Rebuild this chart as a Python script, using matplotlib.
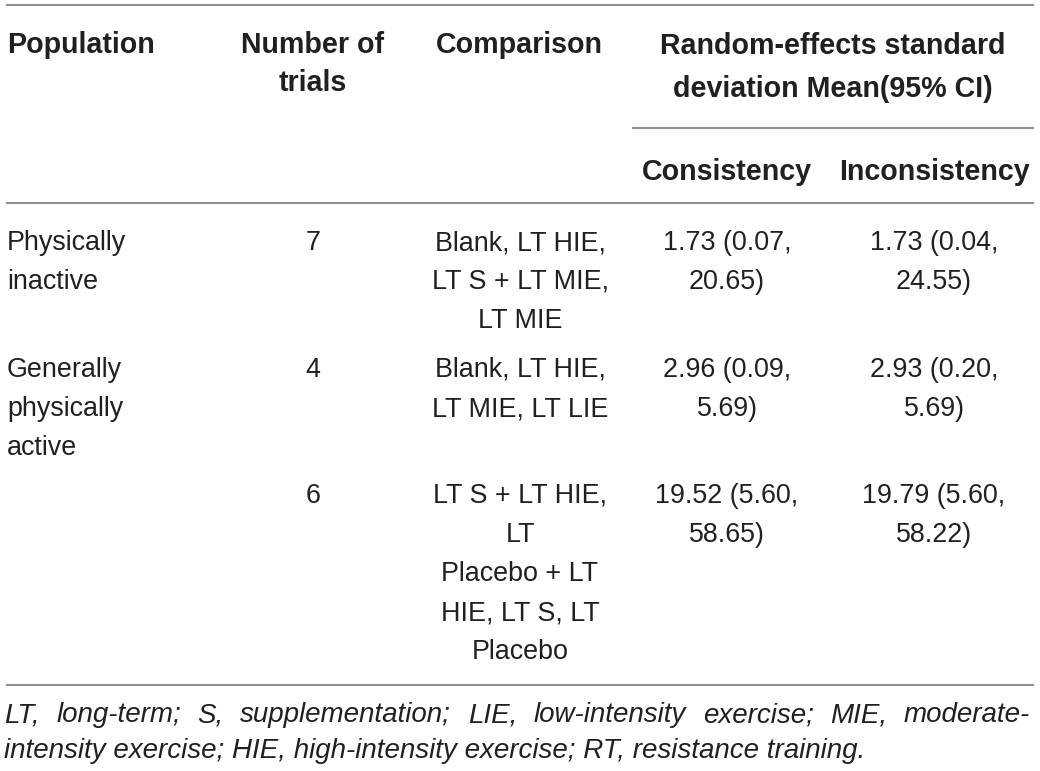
import matplotlib
matplotlib.use("Agg")
import matplotlib.pyplot as plt
from matplotlib import font_manager

# table content
populations = ["Physically\ninactive", "Generally\nphysically\nactive", ""]
n_trials = ["7", "4", "6"]
comparisons = [
    "Blank, LT HIE,\nLT S + LT MIE,\nLT MIE",
    "Blank, LT HIE,\nLT MIE, LT LIE",
    "LT S + LT HIE,\nLT\nPlacebo + LT\nHIE, LT S, LT\nPlacebo",
]
consistency = ["1.73 (0.07,\n20.65)", "2.96 (0.09,\n5.69)", "19.52 (5.60,\n58.65)"]
inconsistency = ["1.73 (0.04,\n24.55)", "2.93 (0.20,\n5.69)", "19.79 (5.60,\n58.22)"]

footnote1 = "LT, long-term; S, supplementation; LIE, low-intensity exercise; MIE, moderate-"
footnote2 = "intensity exercise; HIE, high-intensity exercise; RT, resistance training."

W, H = 1040, 771
fig = plt.figure(figsize=(W / 100, H / 100), dpi=100)
ax = fig.add_axes([0, 0, 1, 1])
ax.set_xlim(0, W)
ax.set_ylim(H, 0)
ax.axis("off")

txt = "#231f20"
rule = "#8f8f8f"
font = "Liberation Sans"
names = {f.name for f in font_manager.fontManager.ttflist}
fn_font = "Liberation Sans Narrow" if "Liberation Sans Narrow" in names else font
fs_body = 19.4
fs_head = 20.6

# rules
for y in [5, 203, 685]:
    ax.plot([6, 1034], [y, y], color=rule, lw=1.5, solid_capstyle="butt")
ax.plot([632, 1034], [128, 128], color=rule, lw=1.5, solid_capstyle="butt")

# header
hd = dict(fontsize=fs_head, fontweight="bold", color=txt, family=font, va="baseline")
ax.text(7, 53, "Population", ha="left", **hd)
ax.text(313, 53, "Number of", ha="center", **hd)
ax.text(313, 91, "trials", ha="center", **hd)
ax.text(519, 53, "Comparison", ha="center", **hd)
ax.text(833, 54, "Random-effects standard", ha="center", **hd)
ax.text(833, 97, "deviation Mean(95% CI)", ha="center", **hd)
ax.text(727, 180, "Consistency", ha="center", **hd)
ax.text(934, 180, "Inconsistency", ha="center", **hd)

# body
row_base = [250, 377, 503]
lh = 39
bd = dict(fontsize=fs_body, color=txt, family=font, va="baseline")
cols = [(populations, 7, "left"), (n_trials, 313, "center"), (comparisons, 520, "center"),
        (consistency, 727, "center"), (inconsistency, 934, "center")]
for col, x, ha in cols:
    for i, cell in enumerate(col):
        for j, line in enumerate(cell.split("\n")):
            if line:
                ax.text(x, row_base[i] + j * lh, line, ha=ha, **bd)

# footnote: fit second line width, justify first line
fig.canvas.draw()
r = fig.canvas.get_renderer()
probe = ax.text(0, 0, footnote2, fontsize=15, style="italic", family=fn_font)
w = probe.get_window_extent(r).width
probe.remove()
fs_fn = 15 * 866 / w
fn = dict(fontsize=fs_fn, style="italic", color=txt, family=fn_font, va="baseline")
ax.text(4, 758, footnote2, ha="left", **fn)

words = footnote1.split(" ")
items = [ax.text(0, 722, wd, ha="left", **fn) for wd in words]
widths = [t.get_window_extent(r).width for t in items]
gap = (1030 - 4 - sum(widths)) / (len(words) - 1)
x = 4
for t, wd in zip(items, widths):
    t.set_x(x)
    x += wd + gap

fig.savefig("out.png", dpi=100)
